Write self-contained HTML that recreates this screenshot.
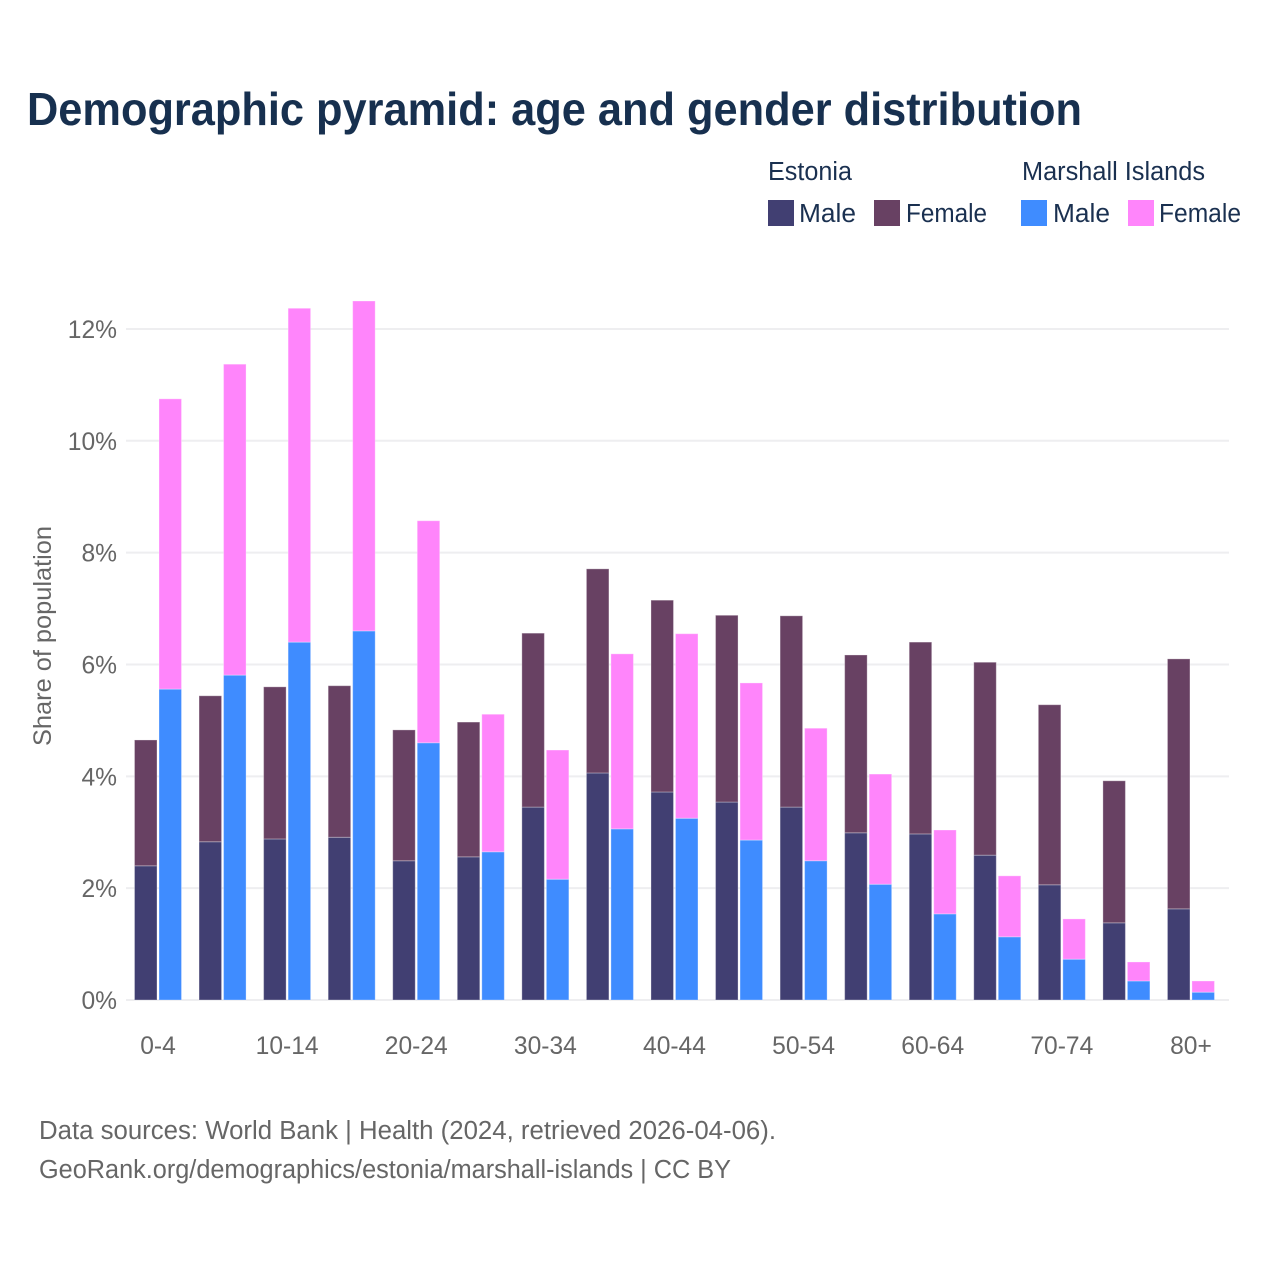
<!DOCTYPE html>
<html lang="en">
<head>
<meta charset="utf-8">
<title>Demographic pyramid</title>
<style>
html,body{margin:0;padding:0;background:#fff;}
svg{display:block;font-family:"Liberation Sans",sans-serif;}
.legend{fill:#1a3050;font-size:25.5px;}
.tick{fill:#666;font-size:24.6px;}
.foot{fill:#666;font-size:25.5px;}
</style>
</head>
<body>
<svg id="chart" width="1280" height="1280" viewBox="0 0 1280 1280" xmlns="http://www.w3.org/2000/svg">
  <rect width="1280" height="1280" fill="#fff"/>
  <text x="27" y="125" font-size="46" font-weight="700" fill="#17304f" textLength="1055" lengthAdjust="spacingAndGlyphs">Demographic pyramid: age and gender distribution</text>

  <g>
    <text class="legend" x="768" y="180" textLength="84" lengthAdjust="spacingAndGlyphs">Estonia</text>
    <text class="legend" x="1022" y="180" textLength="183" lengthAdjust="spacingAndGlyphs">Marshall Islands</text>
    <rect x="768" y="200" width="26" height="26" fill="#413f72"/>
    <text class="legend" x="799" y="222" textLength="57" lengthAdjust="spacingAndGlyphs">Male</text>
    <rect x="874" y="200" width="26" height="26" fill="#684163"/>
    <text class="legend" x="906" y="222" textLength="81" lengthAdjust="spacingAndGlyphs">Female</text>
    <rect x="1021" y="200" width="26" height="26" fill="#3f8cff"/>
    <text class="legend" x="1053" y="222" textLength="57" lengthAdjust="spacingAndGlyphs">Male</text>
    <rect x="1128" y="200" width="26" height="26" fill="#ff85fb"/>
    <text class="legend" x="1159" y="222" textLength="82" lengthAdjust="spacingAndGlyphs">Female</text>
  </g>

  <g id="grid"></g>
  <g id="bars"></g>
  <g id="yticks"></g>
  <g id="xticks"></g>

  <text class="tick" transform="translate(51,746) rotate(-90)" x="0" y="0" textLength="220" lengthAdjust="spacingAndGlyphs">Share of population</text>

  <text class="foot" x="39" y="1139" textLength="737" lengthAdjust="spacingAndGlyphs">Data sources: World Bank | Health (2024, retrieved 2026-04-06).</text>
  <text class="foot" x="39" y="1178" textLength="692" lengthAdjust="spacingAndGlyphs">GeoRank.org/demographics/estonia/marshall-islands | CC BY</text>
</svg>
<script>
const categories = ['0-4','5-9','10-14','15-19','20-24','25-29','30-34','35-39','40-44','45-49','50-54','55-59','60-64','65-69','70-74','75-79','80+'];
const estoniaMale = [2.40,2.83,2.88,2.91,2.49,2.56,3.45,4.06,3.72,3.54,3.45,2.99,2.97,2.59,2.06,1.38,1.63];
const estoniaFemale = [2.25,2.61,2.72,2.71,2.34,2.41,3.11,3.65,3.43,3.34,3.42,3.18,3.43,3.45,3.22,2.54,4.47];
const marshallMale = [5.56,5.81,6.40,6.60,4.60,2.65,2.16,3.06,3.25,2.86,2.49,2.07,1.54,1.13,0.73,0.34,0.14];
const marshallFemale = [5.19,5.56,5.97,5.90,3.97,2.46,2.31,3.13,3.30,2.81,2.37,1.97,1.50,1.09,0.72,0.34,0.20];
const yTickValues = [0,2,4,6,8,10,12];

const NS = 'http://www.w3.org/2000/svg';
const y0 = 1000, pxPerUnit = 55.92;
const x0 = 158, xStep = 64.56;
const barW = 22.5;
function yScale(v){ return y0 - v * pxPerUnit; }
function xScale(i){ return x0 + i * xStep; }
function make(tag, parent){
  const el = document.createElementNS(NS, tag);
  parent.appendChild(el);
  return el;
}

const grid = document.getElementById('grid');
const yticks = document.getElementById('yticks');
yTickValues.forEach(function(v){
  const line = make('line', grid);
  
  
  line.setAttribute('x1', 126);
  line.setAttribute('x2', 1229);
  line.setAttribute('y1', yScale(v));
  line.setAttribute('y2', yScale(v));
  line.setAttribute('stroke', '#eeeef0');
  line.setAttribute('stroke-width', 2);
  const t = make('text', yticks);
  
  
  t.setAttribute('class', 'tick');
  t.setAttribute('x', 117);
  t.setAttribute('y', yScale(v) + 9);
  t.setAttribute('text-anchor', 'end');
  t.textContent = v + '%';
});

const barsGroup = document.getElementById('bars');
function drawBar(name, x, base, value, fill){
  const r = make('rect', barsGroup);
  
  
  r.setAttribute('x', x);
  r.setAttribute('y', yScale(base + value));
  r.setAttribute('width', barW);
  r.setAttribute('height', value * pxPerUnit);
  r.setAttribute('fill', fill);
  r.setAttribute('stroke', 'rgba(255,255,255,0.3)');
  r.setAttribute('stroke-width', 1);
}

const xticks = document.getElementById('xticks');
categories.forEach(function(c, i){
  const cx = xScale(i);
  drawBar('bar-estonia-male-' + c, cx - 23.5, 0, estoniaMale[i], '#413f72');
  drawBar('bar-estonia-female-' + c, cx - 23.5, estoniaMale[i], estoniaFemale[i], '#684163');
  drawBar('bar-marshall-male-' + c, cx + 1, 0, marshallMale[i], '#3f8cff');
  drawBar('bar-marshall-female-' + c, cx + 1, marshallMale[i], marshallFemale[i], '#ff85fb');
  if (i % 2 === 0) {
    const t = make('text', xticks);
    
    
    t.setAttribute('class', 'tick');
    t.setAttribute('x', cx);
    t.setAttribute('y', 1054);
    t.setAttribute('text-anchor', 'middle');
    t.textContent = c;
  }
});
</script>
</body>
</html>
